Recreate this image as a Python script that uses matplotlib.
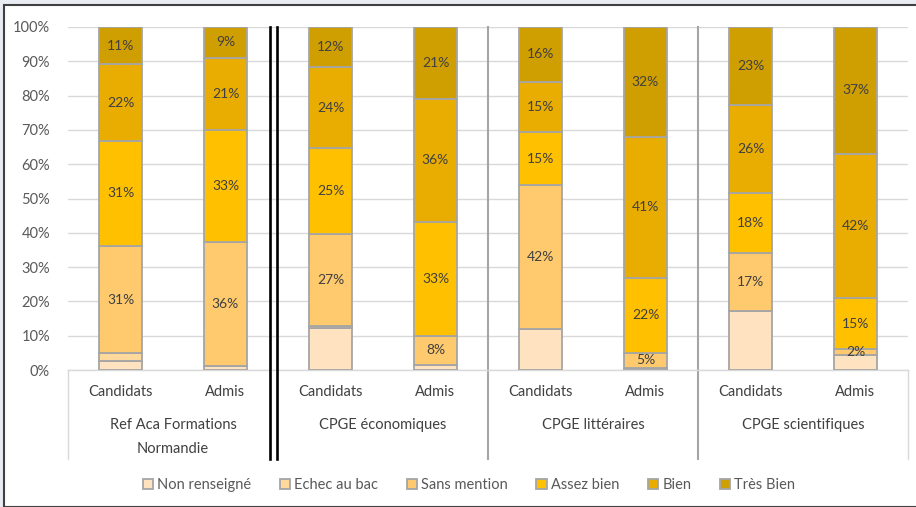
import matplotlib
matplotlib.use("Agg")
import matplotlib.pyplot as plt
import matplotlib.transforms as mtransforms
from matplotlib.patches import Rectangle
import numpy as np

plt.rcParams['font.family'] = ['Lato', 'DejaVu Sans']

groups = ["Ref Aca Formations\nNormandie", "CPGE économiques", "CPGE littéraires", "CPGE scientifiques"]
bar_labels = ["Candidats", "Admis"] * 4
series_names = ["Non renseigné", "Echec au bac", "Sans mention", "Assez bien", "Bien", "Très Bien"]

non_renseigne = [2.5, 1.3, 12.1, 1.5, 12.0, 0.5, 17.2, 4.3]
echec_bac     = [2.4, 0.0, 0.7, 0.0, 0.0, 0.0, 0.0, 0.0]
sans_mention  = [31.3, 36.0, 26.8, 8.4, 42.0, 4.6, 16.9, 1.8]
assez_bien    = [30.6, 32.7, 25.0, 33.2, 15.3, 21.7, 17.6, 14.9]
bien          = [22.3, 21.0, 23.6, 36.0, 14.8, 41.2, 25.6, 42.0]
tres_bien     = [10.9, 9.0, 11.8, 20.9, 15.9, 32.0, 22.7, 37.0]

series = [non_renseigne, echec_bac, sans_mention, assez_bien, bien, tres_bien]
colors = ["#FFE2C0", "#FFD89C", "#FFCA6E", "#FFC000", "#E8AD00", "#CF9E00"]
labelled = [False, False, True, True, True, True]

W, H = 916, 507
fig = plt.figure(figsize=(W / 100, H / 100), dpi=100, facecolor="#E9ECF3")
fig.patches.append(Rectangle((3.5 / W, 0), 1.0, 1 - 5 / H, transform=fig.transFigure,
                             facecolor="white", edgecolor="#404040", linewidth=1.5, zorder=-1))

ax_l, ax_r, ax_t, ax_b = 68, 908, 27, 370
ax = fig.add_axes([ax_l / W, 1 - ax_b / H, (ax_r - ax_l) / W, (ax_b - ax_t) / H])
ax.set_facecolor("none")

x = np.arange(len(bar_labels))
bottom = np.zeros(len(x))
text_color = "#404040"
for vals, col, lab, name in zip(series, colors, labelled, series_names):
    vals = np.array(vals, dtype=float)
    ax.bar(x, vals, width=0.41, bottom=bottom, color=col, edgecolor="#A5A5A5",
           linewidth=1.3, label=name, zorder=3)
    if lab:
        for xi, b, v in zip(x, bottom, vals):
            if v > 0:
                ax.text(xi, b + v / 2, f"{round(v)}%", ha="center", va="center",
                        fontsize=10, color=text_color, zorder=4)
    bottom += vals

ax.set_xlim(-0.5, len(x) - 0.5)
ax.set_ylim(0, 100)
ax.set_yticks(np.arange(0, 101, 10))
ax.set_yticklabels([f"{v}%" for v in range(0, 101, 10)], fontsize=10.5, color="#595959")
ax.tick_params(axis="y", length=0, pad=13)
ax.set_xticks([])
ax.grid(axis="y", color="#D9D9D9", linewidth=1.0, zorder=0)
for s in ["top", "right", "left"]:
    ax.spines[s].set_visible(False)
ax.spines["bottom"].set_color("#D9D9D9")
ax.spines["bottom"].set_linewidth(1.0)

trans = mtransforms.blended_transform_factory(ax.transData, ax.transAxes)
ph = ax_b - ax_t
y_bar_lab = -(392 - ax_b) / ph
for xi, lab in zip(x, bar_labels):
    ax.text(xi, y_bar_lab, lab, transform=trans, ha="center", va="center",
            fontsize=10.5, color=text_color)
for gi, g in enumerate(groups):
    cx = gi * 2 + 0.5
    lines = g.split("\n")
    for li, line in enumerate(lines):
        yy = -(425 + 24 * li - ax_b) / ph
        ax.text(cx, yy, line, transform=trans, ha="center", va="center",
                fontsize=10.5, color=text_color)

y_low = -(459 - ax_b) / ph
for xv in [-0.5, len(x) - 0.5]:
    ax.plot([xv, xv], [0, y_low], transform=trans, color="#D9D9D9", linewidth=1.0, clip_on=False)
for xv in [3.5, 5.5]:
    ax.plot([xv, xv], [1, y_low], transform=trans, color="#A5A5A5", linewidth=1.5, clip_on=False, zorder=2)
for xv in [1.42, 1.49]:
    ax.plot([xv, xv], [1, y_low], transform=trans, color="black", linewidth=1.9, clip_on=False, zorder=5)

handles, labels = ax.get_legend_handles_labels()
leg = fig.legend(handles, labels, loc="center", ncol=6, bbox_to_anchor=(469 / W, 1 - 485 / H),
                 frameon=False, fontsize=10.5, handlelength=0.7, handleheight=0.7,
                 handletextpad=0.3, columnspacing=1.95, labelcolor="#595959")

fig.savefig("out.png", dpi=100, facecolor=fig.get_facecolor())
